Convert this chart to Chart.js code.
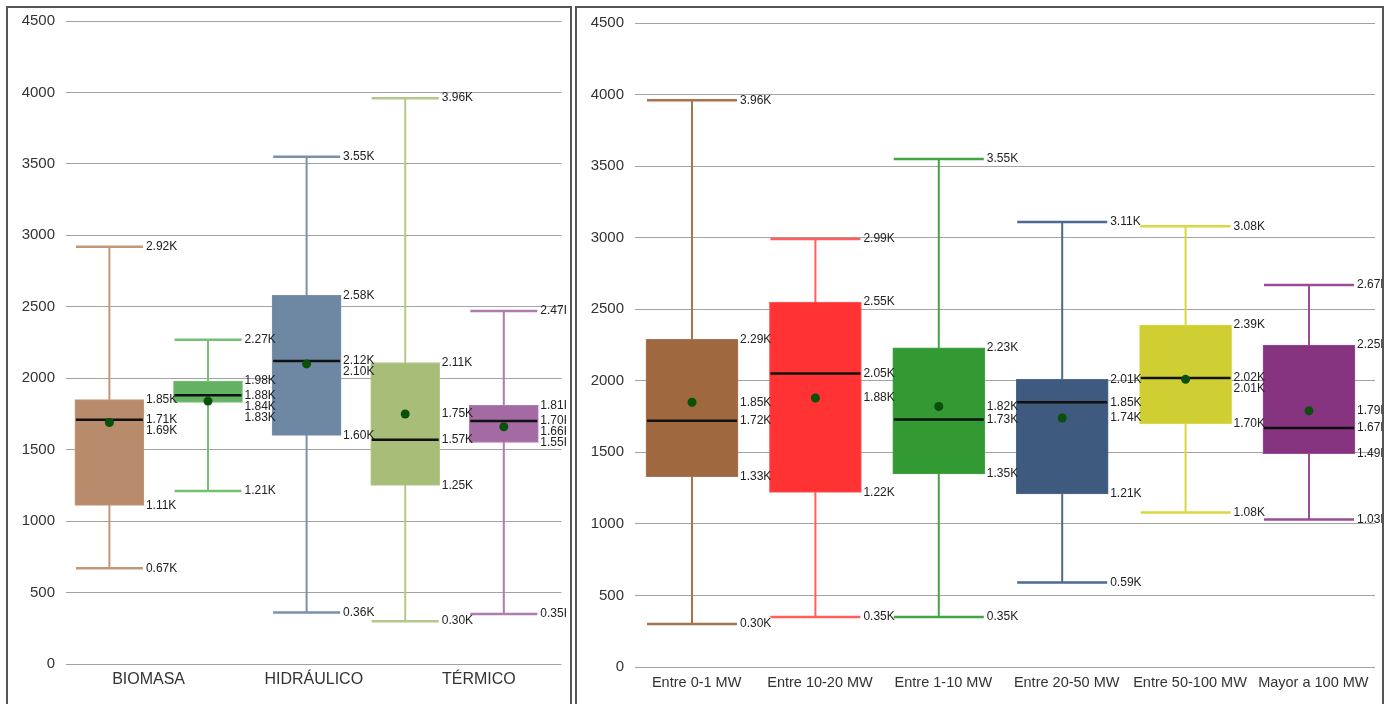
<!DOCTYPE html>
<html>
<head>
<meta charset="utf-8">
<script src="https://cdn.jsdelivr.net/npm/chart.js@4.4.0/dist/chart.umd.min.js"></script>
<style>
html, body { margin: 0; padding: 0; background: #fff; overflow: hidden; width: 1386px; height: 704px; }
.panel { position: absolute; top: 6px; height: 720px; border: 2px solid #555; box-sizing: border-box; }
#left-panel { left: 6px; width: 566px; }
#right-panel { left: 575px; width: 809px; }
canvas { position: absolute; left: 0; top: 0; }
</style>
</head>
<body>
<div class="panel" id="left-panel"><canvas id="left-chart" width="558" height="700"></canvas></div>
<div class="panel" id="right-panel"><canvas id="right-chart" width="805" height="700"></canvas></div>
<script>
// Left chart data (5 boxes over 3 categories)
const leftCategories = ['BIOMASA', 'HIDRÁULICO', 'TÉRMICO'];
const leftMin    = [670, 1210, 360, 300, 350];
const leftQ1     = [1110, 1830, 1600, 1250, 1550];
const leftMedian = [1710, 1880, 2120, 1570, 1700];
const leftMean   = [1690, 1840, 2100, 1750, 1660];
const leftQ3     = [1850, 1980, 2580, 2110, 1810];
const leftMax    = [2920, 2270, 3550, 3960, 2470];

// Right chart data
const rightCategories = ['Entre 0-1 MW', 'Entre 10-20 MW', 'Entre 1-10 MW', 'Entre 20-50 MW', 'Entre 50-100 MW', 'Mayor a 100 MW'];
const rightMin    = [300, 350, 350, 590, 1080, 1030];
const rightQ1     = [1330, 1220, 1350, 1210, 1700, 1490];
const rightMedian = [1720, 2050, 1730, 1850, 2020, 1670];
const rightMean   = [1850, 1880, 1820, 1740, 2010, 1790];
const rightQ3     = [2290, 2550, 2230, 2010, 2390, 2250];
const rightMax    = [3960, 2990, 3550, 3110, 3080, 2670];

const yTicks = { min: 0, max: 4500, step: 500 };

// Colours
const leftBoxColors = ['#b88b6c', '#63b263', '#6e87a2', '#a7bd78', '#a46aa3'];
const leftWhiskerColors = ['#c39878', '#74bf74', '#7a91ab', '#b3c98a', '#b07bae'];
const rightBoxColors = ['#a0683f', '#ff3333', '#339933', '#3e5a7f', '#cfcf33', '#863380'];
const rightWhiskerColors = ['#a8734d', '#ff5f5f', '#44a444', '#4e6a8f', '#d8d83f', '#9a4d95'];

const fontFamily = "'Liberation Sans', Arial, sans-serif";

// draws whiskers, medians and value labels for the box dataset (index 1)
const boxPlotExtras = {
  id: 'boxPlotExtras',
  beforeDatasetsDraw(chart) {
    const ctx = chart.ctx;
    const y = chart.scales.y;
    const ds = chart.data.datasets[1];
    chart.getDatasetMeta(1).data.forEach((bar, i) => {
      const half = (bar.width - 2) / 2;
      const top = y.getPixelForValue(ds.stats.max[i]);
      const bottom = y.getPixelForValue(ds.stats.min[i]);
      ctx.save();
      ctx.strokeStyle = ds.whiskerColors[i];
      ctx.lineWidth = 2;
      ctx.beginPath();
      ctx.moveTo(bar.x, top);
      ctx.lineTo(bar.x, bottom);
      ctx.stroke();
      ctx.lineWidth = 2.5;
      ctx.beginPath();
      ctx.moveTo(bar.x - half, top);
      ctx.lineTo(bar.x + half, top);
      ctx.moveTo(bar.x - half, bottom);
      ctx.lineTo(bar.x + half, bottom);
      ctx.stroke();
      ctx.restore();
    });
  },
  afterDatasetDraw(chart, args) {
    if (args.index !== 1) return;
    const ctx = chart.ctx;
    const y = chart.scales.y;
    const ds = chart.data.datasets[1];
    chart.getDatasetMeta(1).data.forEach((bar, i) => {
      const half = bar.width / 2 - 1;
      const my = y.getPixelForValue(ds.stats.median[i]);
      ctx.save();
      ctx.strokeStyle = '#111';
      ctx.lineWidth = 2.5;
      ctx.beginPath();
      ctx.moveTo(bar.x - half, my);
      ctx.lineTo(bar.x + half, my);
      ctx.stroke();
      ctx.restore();
    });
  },
  afterDatasetsDraw(chart) {
    const ctx = chart.ctx;
    const y = chart.scales.y;
    const s = chart.data.datasets[1].stats;
    ctx.save();
    ctx.font = '12px ' + fontFamily;
    ctx.fillStyle = '#222';
    ctx.textAlign = 'left';
    ctx.textBaseline = 'middle';
    chart.getDatasetMeta(1).data.forEach((bar, i) => {
      const vals = [s.max[i], s.q3[i], s.median[i], s.mean[i], s.q1[i], s.min[i]].sort((a, b) => b - a);
      const lx = bar.x + bar.width / 2 + 2;
      let prev = -100;
      vals.forEach(v => {
        const ly = Math.max(y.getPixelForValue(v), prev + 11);
        ctx.fillText((v / 1000).toFixed(2) + 'K', lx, ly);
        prev = ly;
      });
    });
    ctx.restore();
  }
};

function meanDataset(means) {
  return {
    type: 'line',
    xAxisID: 'xb',
    data: means.map((v, i) => ({ x: i, y: v })),
    showLine: false,
    pointRadius: 4.5,
    pointBorderWidth: 0,
    pointBackgroundColor: '#0a4f0a',
    pointBorderColor: '#0a4f0a'
  };
}

function boxDataset(stats, colors, whiskers, thickness) {
  return {
    type: 'bar',
    xAxisID: 'xb',
    data: stats.q1.map((q1, i) => ({ x: i, y: [q1, stats.q3[i]] })),
    backgroundColor: colors,
    borderColor: whiskers,
    borderWidth: 1,
    borderSkipped: false,
    barThickness: thickness,
    stats: stats,
    whiskerColors: whiskers
  };
}

function boxOptions(p) {
  return {
    responsive: false,
    animation: false,
    layout: { padding: { left: 0, right: p.right, top: p.top, bottom: 0 } },
    plugins: {
      legend: { display: false },
      tooltip: { enabled: false }
    },
    scales: {
      x: {
        type: 'category',
        offset: true,
        grid: { display: false },
        border: { display: false },
        ticks: { color: '#333', font: { size: p.xFont, family: fontFamily }, padding: p.xPad, maxRotation: 0, autoSkip: false },
        afterFit: scale => { scale.height = p.xHeight; }
      },
      xb: { type: 'linear', display: false, offset: false, min: p.min, max: p.max },
      y: {
        min: yTicks.min,
        max: yTicks.max,
        // invisible tick marks keep the labels off the plot without adding top padding
        grid: { color: '#a3a3a3', drawTicks: true, tickLength: 11, tickColor: 'rgba(0,0,0,0)' },
        border: { display: false },
        ticks: {
          stepSize: yTicks.step,
          color: '#333',
          font: { size: 15, family: fontFamily },
          padding: 0,
          callback: value => String(value)
        },
        afterFit: scale => { scale.width = 58; }
      }
    }
  };
}

const leftChart = new Chart(document.getElementById('left-chart'), {
  type: 'bar',
  data: {
    labels: leftCategories,
    datasets: [
      meanDataset(leftMean),
      boxDataset({ min: leftMin, q1: leftQ1, median: leftMedian, mean: leftMean, q3: leftQ3, max: leftMax },
        leftBoxColors, leftWhiskerColors, 69)
    ]
  },
  options: boxOptions({ right: 3, top: 13, xHeight: 44, xFont: 16, xPad: -2, min: -0.44, max: 4.585 }),
  plugins: [boxPlotExtras]
});

const rightChart = new Chart(document.getElementById('right-chart'), {
  type: 'bar',
  data: {
    labels: rightCategories,
    datasets: [
      meanDataset(rightMean),
      boxDataset({ min: rightMin, q1: rightQ1, median: rightMedian, mean: rightMean, q3: rightQ3, max: rightMax },
        rightBoxColors, rightWhiskerColors, 92)
    ]
  },
  options: boxOptions({ right: 7, top: 15, xHeight: 41, xFont: 14.5, xPad: -1, min: -0.462, max: 5.535 }),
  plugins: [boxPlotExtras]
});
</script>
</body>
</html>
